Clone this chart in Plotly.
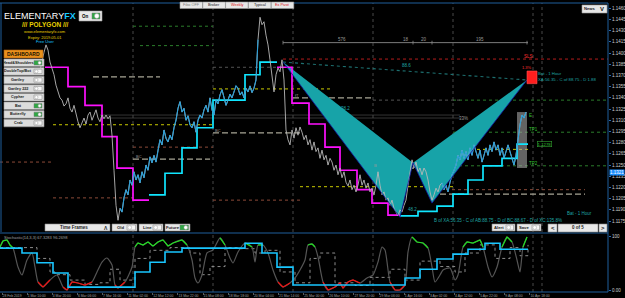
import plotly.graph_objects as go

# ------------------------------------------------------------------ data
first_bar = 20
closes = [
    1.1377, 1.1391, 1.1401, 1.1411, 1.1404, 1.1388, 1.1380, 1.1371, 1.1357, 1.1348,
    1.1340, 1.1337, 1.1329, 1.1332, 1.1340, 1.1326, 1.1321, 1.1330, 1.1317, 1.1308,
    1.1300, 1.1308, 1.1313, 1.1305, 1.1317, 1.1321, 1.1310, 1.1317, 1.1324, 1.1313,
    1.1308, 1.1317, 1.1312, 1.1317, 1.1312, 1.1316, 1.1290, 1.1243, 1.1196, 1.1176,
    1.1192, 1.1187, 1.1206, 1.1217, 1.1210, 1.1230, 1.1223, 1.1241, 1.1230, 1.1237,
    1.1226, 1.1241, 1.1233, 1.1250, 1.1243, 1.1261, 1.1253, 1.1263, 1.1254, 1.1270,
    1.1284, 1.1277, 1.1297, 1.1286, 1.1281, 1.1290, 1.1284, 1.1300, 1.1310, 1.1326,
    1.1335, 1.1321, 1.1326, 1.1310, 1.1316, 1.1304, 1.1300, 1.1308, 1.1294, 1.1310,
    1.1317, 1.1313, 1.1324, 1.1330, 1.1321, 1.1340, 1.1324, 1.1317, 1.1337, 1.1332,
    1.1344, 1.1351, 1.1340, 1.1330, 1.1337, 1.1345, 1.1340, 1.1348, 1.1356, 1.1353,
    1.1344, 1.1348, 1.1340, 1.1353, 1.1348, 1.1356, 1.1347, 1.1353, 1.1364, 1.1418,
    1.1448, 1.1438, 1.1442, 1.1424, 1.1411, 1.1391, 1.1367, 1.1348, 1.1371, 1.1380,
    1.1375, 1.1391, 1.1364, 1.1297, 1.1284, 1.1277, 1.1297, 1.1286, 1.1300, 1.1290,
    1.1301, 1.1294, 1.1284, 1.1290, 1.1277, 1.1284, 1.1270, 1.1281, 1.1268, 1.1273,
    1.1259, 1.1270, 1.1257, 1.1263, 1.1250, 1.1259, 1.1254, 1.1243, 1.1250, 1.1237,
    1.1246, 1.1233, 1.1241, 1.1227, 1.1222, 1.1230, 1.1217, 1.1223, 1.1214, 1.1223,
    1.1237, 1.1223, 1.1230, 1.1219, 1.1226, 1.1214, 1.1219, 1.1210, 1.1223, 1.1241,
    1.1223, 1.1210, 1.1214, 1.1203, 1.1206, 1.1196, 1.1203, 1.1192, 1.1187, 1.1182,
    1.1190, 1.1187, 1.1196, 1.1203, 1.1223, 1.1243, 1.1257, 1.1246, 1.1254, 1.1241,
    1.1246, 1.1237, 1.1246, 1.1241, 1.1230, 1.1214, 1.1203, 1.1210, 1.1219, 1.1214,
    1.1223, 1.1226, 1.1217, 1.1223, 1.1214, 1.1227, 1.1237, 1.1243, 1.1250, 1.1263,
    1.1257, 1.1270, 1.1259, 1.1268, 1.1257, 1.1273, 1.1263, 1.1277, 1.1268, 1.1259,
    1.1270, 1.1254, 1.1263, 1.1273, 1.1263, 1.1277, 1.1268, 1.1281, 1.1270, 1.1277,
    1.1263, 1.1273, 1.1259, 1.1270, 1.1277, 1.1268, 1.1257, 1.1250, 1.1263, 1.1284,
    1.1304, 1.1317, 1.1313, 1.1321,
]
price_ticks = [1.1175, 1.1190, 1.1205, 1.1220, 1.1235, 1.1250, 1.1265, 1.1280, 1.1295, 1.1310,
               1.1325, 1.1340, 1.1355, 1.1370, 1.1385, 1.1400, 1.1415, 1.1430, 1.1445, 1.1460]
date_labels = ["28 Feb 2019", "1 Mar 10:00", "4 Mar 20:00", "6 Mar 06:00", "7 Mar 16:00",
               "11 Mar 02:00", "12 Mar 12:00", "13 Mar 22:00", "15 Mar 08:00", "18 Mar 18:00",
               "20 Mar 04:00", "21 Mar 14:00", "25 Mar 00:00", "26 Mar 10:00", "27 Mar 20:00",
               "29 Mar 06:00", "1 Apr 16:00", "3 Apr 02:00", "4 Apr 12:00", "5 Apr 22:00",
               "9 Apr 08:00", "10 Apr 18:00"]

magenta_1_bar = [22.5, 34, 42.5, 51, 58.5, 66.5, 74.5]
magenta_1_price = [1.1381, 1.1355, 1.1330, 1.1288, 1.1246, 1.1203, 1.1203]
cyan_1_bar = [74.5, 82.5, 91, 98.5, 106.5, 122.5, 130, 138.5]
cyan_1_price = [1.1210, 1.1239, 1.1273, 1.1300, 1.1337, 1.1371, 1.1388, 1.1388]
magenta_2_bar = [138.5, 146, 154.5, 162.5, 170, 178.5, 186, 194, 200]
magenta_2_price = [1.1381, 1.1333, 1.1305, 1.1274, 1.1243, 1.1217, 1.1199, 1.1183, 1.1183]
cyan_2_bar = [200, 209, 218.5, 226.5, 234, 241.5, 251, 258.5, 264]
cyan_2_price = [1.1182, 1.1188, 1.1195, 1.1211, 1.1230, 1.1249, 1.1259, 1.1278, 1.1278]

pattern_points = ["X", "A", "B", "C", "D"]
pattern_bar = [141.5, 200, 206.5, 216, 263.5]
pattern_price = [1.1388, 1.1180, 1.1253, 1.1199, 1.1364]

stoch_bar = [0, 1.5, 3.5, 5, 6.5, 9, 11, 13.5, 16, 17.5, 19, 21.5, 25, 28.5, 31.5, 33.5, 36, 39,
             42.5, 46, 48.5, 51, 53.5, 56, 57.5, 59, 62.5, 66, 67.5, 69, 71.5, 74, 76.5, 79,
             81.5, 84, 86.5, 91, 93.5, 96, 97.5, 99, 101, 103.5, 106.5, 110, 112.5, 115, 116.5,
             119, 122.5, 126, 127.5, 129, 131.5, 134, 136.5, 139, 141.5, 145, 147.5, 150, 152.5,
             154, 156, 157.5, 159, 161.5, 164, 167.5, 170, 171.5, 174, 176.5, 180, 183.5, 186.5,
             189, 191, 192.5, 195, 197.5, 200, 202.5, 204, 206, 208.5, 211.5, 214, 216, 217.5,
             220, 221.5, 225, 227.5, 229, 231.5, 233.5, 236.5, 240, 241.5, 244, 246, 248.5, 251,
             253.5, 256, 258.5, 260, 261.5, 263.5]
stoch_main = [81.1, 92.2, 94.1, 84.8, 79.3, 44.2, 29.4, 57.1, 70.1, 44.2, 16.5, 7.2, 20.2, 29.4,
              7.2, 1.7, 16.5, 14.6, 10.9, 16.5, 35.0, 53.4, 60.8, 47.9, 10.9, 5.4, 16.5, 44.2,
              81.1, 88.5, 84.8, 90.4, 83.0, 90.4, 94.1, 83.0, 88.5, 94.1, 84.8, 57.1, 23.9, 14.6,
              29.4, 70.1, 75.6, 97.8, 84.8, 60.8, 51.6, 71.9, 88.5, 81.1, 53.4, 84.8, 84.8, 70.1,
              38.6, 16.5, 7.2, 14.6, 23.9, 38.6, 57.1, 84.8, 86.7, 81.1, 62.7, 16.5, 1.7, 7.2,
              14.6, 5.4, 16.5, 20.2, 14.6, 23.9, 29.4, 53.4, 81.1, 75.6, 16.5, 1.7, 1.7, 10.9,
              71.9, 99.6, 90.4, 88.5, 79.3, 44.2, 16.5, 29.4, 38.6, 42.3, 20.2, 29.4, 81.1, 90.4,
              88.5, 94.1, 81.1, 44.2, 25.7, 44.2, 81.1, 99.6, 90.4, 57.1, 35.0, 81.1, 99.6]
signal_bar = [0, 10, 18.5, 25, 27.5, 35, 42.5, 50, 55, 60, 67.5, 75, 85, 95, 100, 105, 112.5,
              120, 127.5, 132.5, 140, 147.5, 155, 160, 167.5, 177.5, 185, 195, 202.5, 210, 220,
              227.5, 232.5, 240, 247.5, 255, 260, 264]
signal_val = [80, 80, 60, 35, 30, 20, 12, 15, 40, 20, 60, 75, 80, 70, 30, 45, 80, 78, 70, 75, 35,
              15, 60, 70, 15, 10, 25, 40, 20, 55, 45, 35, 70, 85, 60, 80, 65, 85]
trend_bar = [0, 11, 18.5, 26.5, 34, 67.5, 75, 82.5, 91, 122.5, 131, 138.5, 146.5, 202.5, 210,
             218.5, 226.5, 234, 242.5, 250, 264]
trend_val = [79, 70, 52, 33, 7, 35, 53, 72, 79, 88, 70, 44, 11, 24, 40, 59, 68, 77, 88, 77, 77]

pivot_levels = [(1.1304, 26.5, 106.5), (1.1352, 106.5, 165), (1.1221, 150, 226.5), (1.1271, 226.5, 264)]
mid_levels = [(1.1368, 46.5, 80), (1.1258, 66.5, 105), (1.1293, 106.5, 150), (1.1340, 146.5, 186.5),
              (1.1246, 186, 230), (1.1211, 220, 292.5)]
support_levels = [(1.1254, 0, 26.5), (1.1206, 26.5, 66.5), (1.1274, 66.5, 106.5), (1.1203, 106.5, 150),
                  (1.1217, 220, 292.5)]
target_levels = [(1.1436, 66.5, 106.5), (1.1410, 70, 106.5), (1.1337, 226.5, 304), (1.1294, 226.5, 304),
                 (1.1249, 226.5, 304)]
range_levels = [(1.1381, 106.5, 150), (1.1337, 186.5, 230)]
band_levels = [(1.1317, 50, 230), (1.1313, 50, 230)]
stop_level = (1.1392, 141.5, 304)
count_level = (1.1414, 141.5, 264)
grid_bars = [66.5, 106.5, 146.5, 186.5, 226.5, 266.5, 271]
target_box = (263.5, 268.5, 1.1359, 1.1376)
zone_box = (258.5, 263.5, 1.1246, 1.1321)

# ------------------------------------------------------------------ helpers
PLOT_R, TOP, BOT = 608, 3, 292
FONT = "Liberation Sans, Arial, sans-serif"
NARROW = "Liberation Sans Narrow, Liberation Sans, Arial, sans-serif"


def pxx(x):
    return x / PLOT_R


def pxy(y):
    return (BOT - y) / (BOT - TOP)


shapes, annotations = [], []


def hline(level, color, dash, width=0.8, layer="below"):
    price, b0, b1 = level
    shapes.append(dict(type="line", xref="x", yref="y", x0=b0, x1=b1, y0=price, y1=price,
                       line=dict(color=color, dash=dash, width=width), layer=layer))


def box(x0, y0, x1, y1, fill, line="#8a8a8a", lw=0.6):
    shapes.append(dict(type="rect", xref="paper", yref="paper", x0=pxx(x0), x1=pxx(x1),
                       y0=pxy(y1), y1=pxy(y0), fillcolor=fill, line=dict(color=line, width=lw),
                       layer="above"))


def label(x, y, text, size, color, anchor="center", family=FONT, ref="paper", bg=None, border=None):
    a = dict(text=text, showarrow=False, font=dict(size=size, color=color, family=family),
             xanchor=anchor, yanchor="middle", borderpad=0)
    if ref == "paper":
        a.update(xref="paper", yref="paper", x=pxx(x), y=pxy(y))
    else:
        a.update(xref="x", yref="y", x=x, y=y)
    if bg:
        a["bgcolor"] = bg
    if border:
        a["bordercolor"] = border
        a["borderwidth"] = 0.6
    annotations.append(a)


def toggle(x0, y0, x1, y1, on):
    box(x0, y0, x1, y1, "#2fa843" if on else "#f6f6f6", "#7a7a7a", 0.5)
    r = (y1 - y0) / 2 - 0.6
    cx = x1 - r - 0.8 if on else x0 + r + 0.8
    shapes.append(dict(type="circle", xref="paper", yref="paper", x0=pxx(cx - r), x1=pxx(cx + r),
                       y0=pxy((y0 + y1) / 2 + r), y1=pxy((y0 + y1) / 2 - r), fillcolor="white",
                       line=dict(color="#9a9a9a", width=0.5), layer="above"))


bars = [first_bar + i for i in range(len(closes))]

fig = go.Figure()

# ------------------------------------------------------------------ levels & grid
for b in grid_bars:
    shapes.append(dict(type="line", xref="x", yref="paper", x0=b, x1=b, y0=0, y1=1,
                       line=dict(color="#5a5a5a", dash="dot", width=0.8), layer="below"))
for lv in pivot_levels:
    hline(lv, "#c9c900", "dot", 1)
for lv in mid_levels:
    hline(lv, "#a8a595", "6px,3px", 1.3)
for lv in support_levels:
    hline(lv, "#8c4a38", "dot", 1)
for lv in target_levels:
    hline(lv, "#2b7d2b", "dot", 1)
for lv in range_levels:
    hline(lv, "#5e5e5e", "dot", 0.9)
for lv in band_levels:
    hline(lv, "#4a4a4a", "solid", 0.7)
hline(stop_level, "#b41c1c", "dot", 1)
hline(count_level, "#8a8a8a", "solid", 0.9)
for i in (0, 2, 3, 4):
    shapes.append(dict(type="line", xref="x", yref="y", x0=pattern_bar[i], x1=pattern_bar[i],
                       y0=count_level[0] - 0.00025, y1=count_level[0] + 0.00025,
                       line=dict(color="#8a8a8a", width=0.8), layer="below"))
shapes.append(dict(type="rect", xref="x", yref="y", x0=zone_box[0], x1=zone_box[1], y0=zone_box[2],
                   y1=zone_box[3], fillcolor="rgba(165,165,165,0.6)", line=dict(width=0), layer="below"))

# ------------------------------------------------------------------ bat pattern fills
for idx in ((0, 1, 2), (2, 3, 4)):
    xs = [pattern_bar[i] for i in idx] + [pattern_bar[idx[0]]]
    ys = [pattern_price[i] for i in idx] + [pattern_price[idx[0]]]
    fig.add_trace(go.Scatter(x=xs, y=ys, mode="lines", fill="toself", fillcolor="#17a3a8",
                             line=dict(width=0), hoverinfo="skip"))
fig.add_trace(go.Scatter(x=[pattern_bar[0], pattern_bar[4]], y=[pattern_price[0], pattern_price[4]],
                         mode="lines", line=dict(color="#1d6f6f", dash="dot", width=1.1)))

# ------------------------------------------------------------------ step lines
for bx, by, col in ((magenta_1_bar, magenta_1_price, "#ff10ff"), (cyan_1_bar, cyan_1_price, "#10e6ff"),
                    (magenta_2_bar, magenta_2_price, "#ff10ff"), (cyan_2_bar, cyan_2_price, "#10e6ff")):
    fig.add_trace(go.Scatter(x=bx, y=by, mode="lines", line=dict(color=col, width=1.7, shape="hv")))

# ------------------------------------------------------------------ price
fig.add_trace(go.Scatter(x=bars, y=closes, mode="lines", line=dict(color="#b8b8b8", width=0.9)))
for b0, b1 in ((60, 129), (221, 263)):
    sel = [i for i, b in enumerate(bars) if b0 <= b <= b1]
    fig.add_trace(go.Scatter(x=[bars[i] for i in sel], y=[closes[i] for i in sel], mode="lines",
                             line=dict(color="#2a9fd8", width=1.1)))
fig.add_trace(go.Scatter(x=pattern_bar, y=pattern_price, mode="lines",
                         line=dict(color="#1414a0", width=0.8)))
shapes.append(dict(type="rect", xref="x", yref="y", x0=target_box[0], x1=target_box[1],
                   y0=target_box[2], y1=target_box[3], fillcolor="#ff1e1e",
                   line=dict(color="#ff5050", width=0.6), layer="above"))

# ------------------------------------------------------------------ oscillator
fig.add_trace(go.Scatter(x=signal_bar, y=signal_val, xaxis="x2", yaxis="y2", mode="lines",
                         line=dict(color="#8c8c8c", dash="dot", width=1, shape="hv")))
fig.add_trace(go.Scatter(x=stoch_bar, y=stoch_main, xaxis="x2", yaxis="y2", mode="lines",
                         line=dict(color="#555555", width=1.2, shape="spline", smoothing=0.6)))
fig.add_trace(go.Scatter(x=stoch_bar, y=[v if v >= 79 else None for v in stoch_main], xaxis="x2",
                         yaxis="y2", mode="lines", line=dict(color="#22e022", width=1.2)))
fig.add_trace(go.Scatter(x=stoch_bar, y=[v if v <= 21 else None for v in stoch_main], xaxis="x2",
                         yaxis="y2", mode="lines", line=dict(color="#f01414", width=1.2)))
fig.add_trace(go.Scatter(x=trend_bar, y=trend_val, xaxis="x2", yaxis="y2", mode="lines",
                         line=dict(color="#19c6ff", width=1.6, shape="hv")))

# ------------------------------------------------------------------ frame lines
for y in (TOP, 233, BOT):
    shapes.append(dict(type="line", xref="paper", yref="paper", x0=0, x1=1, y0=pxy(y), y1=pxy(y),
                       line=dict(color="#1f5f9c", width=1), layer="above"))
shapes.append(dict(type="line", xref="paper", yref="paper", x0=1, x1=1, y0=0, y1=1,
                   line=dict(color="#1f5f9c", width=1), layer="above"))
shapes.append(dict(type="line", xref="paper", yref="paper", x0=pxx(1), x1=pxx(1), y0=pxy(232), y1=1,
                   line=dict(color="#1f5f9c", width=1), layer="above"))

# ------------------------------------------------------------------ chart labels
label(264, 1.1396, "SLS", 4.5, "#ff3030", ref="data")
label(171, 1.1418, "576", 4.5, "#9a9a9a", ref="data")
label(203, 1.1418, "18", 4.5, "#9a9a9a", ref="data")
label(212, 1.1418, "20", 4.5, "#9a9a9a", ref="data")
label(240, 1.1418, "195", 4.5, "#9a9a9a", ref="data")
label(203, 1.1384, "88.6", 4.5, "#1fa5a5", ref="data")
label(172.5, 1.1326, "38.2", 4.5, "#1fa5a5", ref="data")
label(206, 1.1190, "48.2", 4.5, "#1fa5a5", ref="data")
label(231.5, 1.1313, "33%", 4.5, "#9a9a9a", ref="data")
label(67.5, 1.1261, "BC", 4, "#9a9a9a", ref="data", anchor="left")
label(107, 1.1296, "BC", 4, "#9a9a9a", ref="data", anchor="left")
label(147, 1.1343, "fT", 4, "#9a9a9a", ref="data", anchor="left")
label(186.5, 1.1249, "B", 4, "#9a9a9a", ref="data", anchor="left")
label(264, 1.1297, "TP1", 4.5, "#30c030", ref="data", anchor="left")
label(264, 1.1252, "TP2", 4.5, "#30c030", ref="data", anchor="left")
label(264, 1.1317, "E", 4.5, "#30c030", ref="data", anchor="left")
label(263.5, 1.1381, "1.3%", 4, "#ff3030", ref="data")
label(268.5, 1.1372, "Bat - 1 Hour", 4.3, "#1fa5a5", ref="data", anchor="left")
label(268.5, 1.1364, "XA:56.35 - C of 88.75 - D 1.88", 4.3, "#1fa5a5", ref="data", anchor="left")
label(268.5, 1.1278, "1.1278", 4.3, "#30c030", ref="data", anchor="left", border="#30a030")
label(283, 1.1185, "Bat - 1 Hour", 4.5, "#1fa5a5", ref="data", anchor="left")
label(216.5, 1.1176, "B of XA:56.35 - C of AB:88.75 - D of BC:88.67 - D of XC:135.8%", 4.5,
      "#1fa5a5", ref="data", anchor="left")
label(3, 237, "Stochastic(14,3,3) 67.3283 96.2698", 4, "#a0a0a0", anchor="left")
last_y = BOT - (closes[-1] - 1.11603) / (1.14671 - 1.11603) * (232 - TOP)
label(609, last_y, f"{closes[-1]:.4f}", 4.5, "white", anchor="left", bg="#1e8fff")

# ------------------------------------------------------------------ UI overlay
label(3, 16, "ELEMENTARY<span style='color:#18c8ff'><b>FX</b></span>", 9, "white", anchor="left")
box(79, 11, 102, 21, "#e8e8e8", "#9a9a9a")
label(85.5, 16, "<b>On</b>", 4.5, "black")
toggle(92, 13, 100, 19, True)
label(45, 25, "<b>/// POLYGON ///</b>", 6.5, "#e8d000")
label(45, 32, "www.elementaryfx.com", 4, "#e8d000")
label(45, 37, "Expiry: 2019.05.01", 4, "#e8d000")
label(45, 42, "Free User", 4, "#18c8ff")

box(4, 50, 43, 58, "#e8901c", "#b06010")
label(23.5, 54, "<b>DASHBOARD</b>", 5, "#201000")
dash_items = ["Head&Shoulders", "DoubleTop/Bot", "Gartley", "Gartley 222", "Cypher", "Bat",
              "Butterfly", "Crab"]
dash_on = [True, False, False, False, False, True, True, False]
for k, (name, on) in enumerate(zip(dash_items, dash_on)):
    y0 = 59 + k * 8.6
    box(4, y0, 44, y0 + 7.6, "#dcdcdc", "#9a9a9a")
    label(18, y0 + 3.8, f"<b>{name}</b>", 3.8, "#202020")
    toggle(34, y0 + 1.6, 42, y0 + 6, on)

box(45, 224, 110, 231, "#e8e8e8", "#8a8a8a")
label(74, 227.5, "<b>Time Frames</b>", 4.5, "#202020")
label(106, 227.5, "<b>Λ</b>", 5, "#202020")
for x0, x1, name, on in ((112, 137, "Old", False), (139, 163, "Line", False), (165, 190, "Future", True)):
    box(x0, 224, x1, 231, "#e8e8e8", "#8a8a8a")
    label(x0 + 8, 227.5, f"<b>{name}</b>", 4.2, "#202020")
    toggle(x1 - 10, 225, x1 - 1.5, 230, on)

top_buttons = [("Fibo OFF", "#808080"), ("Broker", "#202020"), ("Weekly", "#e02020"),
               ("Typical", "#202020"), ("Ex Pivot", "#e02020")]
for k, (name, col) in enumerate(top_buttons):
    x0 = 180 + k * 22.8
    box(x0, 2, x0 + 22.6, 8.5, "#e6e6e6", "#9a9a9a")
    label(x0 + 11.3, 5.3, name, 3.8, col)

box(582, 5, 607, 13, "#e6e6e6", "#9a9a9a")
label(590, 9, "<b>News</b>", 4.2, "#202020")
label(602, 9, "<b>V</b>", 6, "#202020")

for x0, x1, name in ((492, 515, "Alert"), (517, 541, "Save")):
    box(x0, 224, x1, 231, "#e8e8e8", "#8a8a8a")
    label(x0 + 7, 227.5, f"<b>{name}</b>", 4.2, "#202020")
    toggle(x1 - 9, 225, x1 - 1.5, 230, False)
box(548, 224, 557, 232, "#e8e8e8", "#8a8a8a")
label(552.5, 228, "<b><</b>", 6, "#202020")
box(558, 224, 598, 232, "#e8e8e8", "#8a8a8a")
label(578, 228, "<b>0 of 5</b>", 4.5, "#202020")
box(599, 224, 607, 232, "#e8e8e8", "#8a8a8a")
label(603, 228, "<b>></b>", 6, "#202020")

# ------------------------------------------------------------------ layout
tick_pos = [1 + 12.57 * k for k in range(len(date_labels))]
fig.update_layout(
    width=625, height=298, template="none", showlegend=False, hovermode=False,
    margin=dict(l=0, r=17, t=3, b=6), paper_bgcolor="black", plot_bgcolor="black",
    xaxis=dict(domain=[0, 1], range=[0, 304], anchor="y", showgrid=False, zeroline=False,
               showticklabels=False, ticks="", automargin=False),
    yaxis=dict(domain=[0.2076, 1], range=[1.11603, 1.14671], side="right", tickvals=price_ticks,
               ticktext=[f"{v:.4f}" for v in price_ticks], tickfont=dict(size=4.5, color="#d0d0d0", family=FONT),
               ticks="outside", ticklen=2, tickcolor="#2a6ab0", showgrid=False, zeroline=False,
               automargin=False),
    xaxis2=dict(domain=[0, 1], range=[0, 304], anchor="y2", tickvals=tick_pos, ticktext=date_labels,
                tickangle=0, ticklabelposition="outside right",
                tickfont=dict(size=3.4, color="#a0a0a0", family=FONT), ticks="outside", ticklen=1.5,
                tickcolor="#5a5a5a", showgrid=False, zeroline=False, automargin=False),
    yaxis2=dict(domain=[0, 0.2042], range=[-2, 107], side="right", anchor="x2", tickvals=[100, 0],
                ticktext=["100", "0.00"], tickfont=dict(size=4.5, color="#d0d0d0", family=FONT),
                ticks="outside", ticklen=2, tickcolor="#2a6ab0", showgrid=False, zeroline=False,
                automargin=False),
    shapes=shapes, annotations=annotations,
)

fig.write_html("out.html")
